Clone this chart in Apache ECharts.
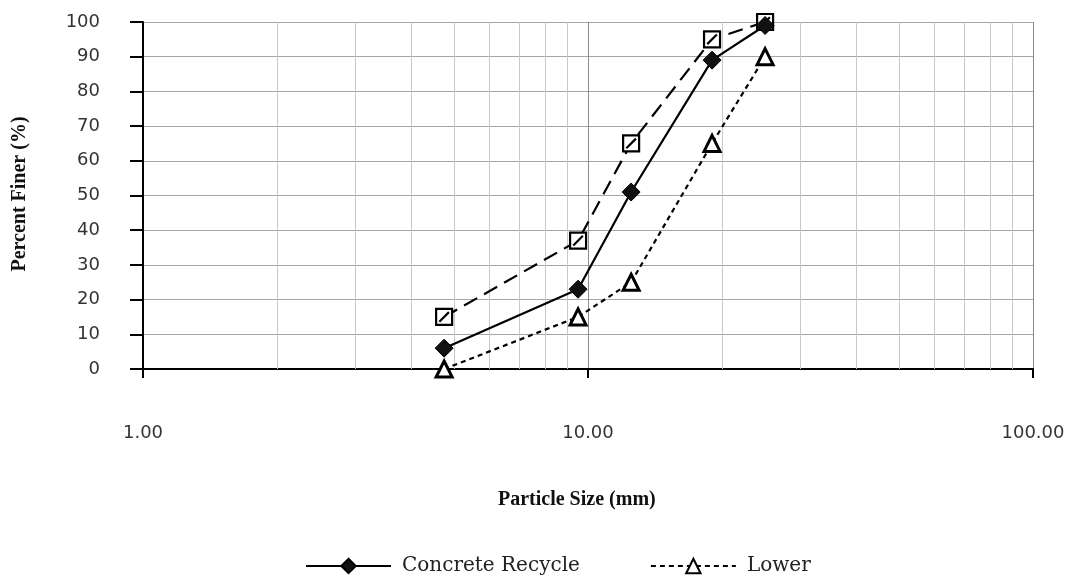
<!DOCTYPE html>
<html>
<head>
<meta charset="utf-8">
<title>Particle Size Distribution</title>
<script src="https://cdn.jsdelivr.net/npm/echarts@6/dist/echarts.min.js"></script>
<style>
  html, body { margin: 0; padding: 0; background: #fff; }
  #chart { width: 1070px; height: 577px; }
</style>
</head>
<body>
<div id="chart"></div>
<script>
// Sieve sizes (mm)
const sieveSizes = [4.75, 9.5, 12.5, 19, 25];

// Percent finer at each sieve
const concreteRecycle = [6, 23, 51, 89, 99];
const lowerLimit      = [0, 15, 25, 65, 90];
const upperLimit      = [15, 37, 65, 95, 100];

// Minor vertical grid positions between the decades
const minorGridValues = [2, 3, 4, 5, 6, 7, 8, 9, 20, 30, 40, 50, 60, 70, 80, 90];

const pairs = (xs, ys) => xs.map((x, i) => [x, ys[i]]);

const chart = echarts.init(document.getElementById('chart'), null, { renderer: 'canvas' });

chart.setOption({
  animation: false,
  backgroundColor: '#ffffff',
  grid: { left: 143, right: 37, top: 22, bottom: 208, containLabel: false },
  xAxis: {
    type: 'log',
    logBase: 10,
    min: 1,
    max: 100,
    axisLine: { show: true, onZero: false, lineStyle: { color: '#000', width: 2 } },
    axisTick: { show: true, inside: false, length: 9, lineStyle: { color: '#000', width: 2 } },
    axisLabel: {
      margin: 55,
      color: '#333',
      fontFamily: 'DejaVu Sans',
      fontSize: 18,
      formatter: v => Number(v).toFixed(2)
    },
    splitLine: { show: true, lineStyle: { color: '#8c8c8c', width: 1 } },
    minorTick: { show: false },
    minorSplitLine: { show: false }
  },
  yAxis: {
    type: 'value',
    min: 0,
    max: 100,
    interval: 10,
    axisLine: { show: true, lineStyle: { color: '#000', width: 2 } },
    axisTick: { show: true, inside: false, length: 13, lineStyle: { color: '#000', width: 2 } },
    axisLabel: {
      margin: 43,
      color: '#333',
      fontFamily: 'DejaVu Sans',
      fontSize: 18
    },
    splitLine: { show: true, lineStyle: { color: '#a6a6a6', width: 1 } }
  },
  legend: {
    data: ['Concrete Recycle', 'Lower'],
    left: 305,
    top: 556,
    itemWidth: 85,
    itemHeight: 18,
    itemGap: 70,
    padding: 0,
    textStyle: {
      fontFamily: 'DejaVu Serif',
      fontSize: 20,
      color: '#222',
      padding: [0, 0, 0, 6]
    }
  },
  graphic: [
    {
      type: 'text',
      left: 498,
      top: 490,
      style: {
        text: 'Particle Size (mm)',
        font: 'bold 20px "Liberation Serif"',
        fill: '#111'
      }
    },
    {
      type: 'text',
      x: 20,
      y: 194,
      rotation: Math.PI / 2,
      style: {
        text: 'Percent Finer (%)',
        font: 'bold 20px "Liberation Serif"',
        fill: '#111',
        align: 'center',
        verticalAlign: 'middle'
      }
    }
  ],
  series: [
    {
      name: 'grid-minor',
      type: 'line',
      data: [],
      silent: true,
      z: 1,
      markLine: {
        silent: true,
        z: 1,
        symbol: 'none',
        animation: false,
        label: { show: false },
        lineStyle: { color: '#c8c8c8', width: 1, type: 'solid' },
        emphasis: { disabled: true },
        data: minorGridValues.map(v => ({ xAxis: v }))
      }
    },
    {
      name: 'Upper',
      type: 'line',
      z: 3,
      data: pairs(sieveSizes, upperLimit),
      symbol: 'path://M0 0H10V10H0Z M2 8L8 2',
      symbolSize: 16,
      itemStyle: { color: '#fff', borderColor: '#000', borderWidth: 2.2 },
      lineStyle: { color: '#000', width: 2.2, type: [15, 8] }
    },
    {
      name: 'Concrete Recycle',
      type: 'line',
      z: 4,
      data: pairs(sieveSizes, concreteRecycle),
      symbol: 'diamond',
      symbolSize: 18,
      itemStyle: { color: '#111', borderColor: '#000', borderWidth: 1 },
      lineStyle: { color: '#000', width: 2.2, type: 'solid' }
    },
    {
      name: 'Lower',
      type: 'line',
      z: 3,
      data: pairs(sieveSizes, lowerLimit),
      symbol: 'triangle',
      symbolSize: 16,
      itemStyle: { color: '#fff', borderColor: '#000', borderWidth: 3 },
      lineStyle: { color: '#000', width: 2.2, type: [5, 4] }
    }
  ]
});
</script>
</body>
</html>
